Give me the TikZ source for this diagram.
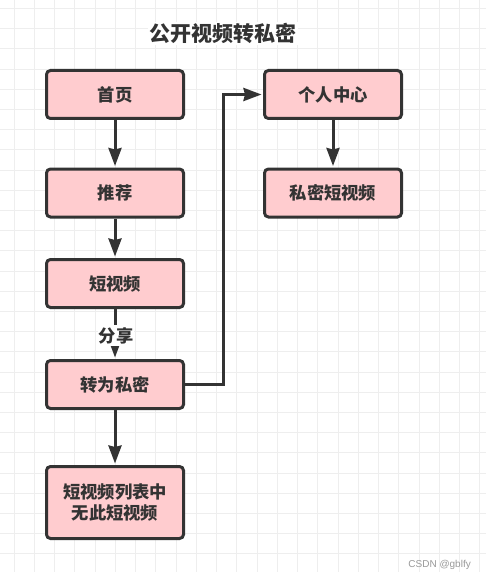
\documentclass[tikz,border=0pt]{standalone}
\usepackage{fontspec}
\setmainfont{Noto Sans CJK SC}
\newfontfamily\wmfont{Liberation Sans}
\usetikzlibrary{arrows.meta}
\definecolor{boxfill}{HTML}{FFCCCF}
\definecolor{boxline}{HTML}{333333}
\definecolor{txt}{HTML}{333333}
\definecolor{gridc}{HTML}{EEEEEE}
\definecolor{wmc}{HTML}{999999}
\begin{document}
\begin{tikzpicture}[x=1pt,y=-1pt,
  box/.style={draw=boxline, fill=boxfill, line width=3pt, rounded corners=4pt,
    minimum width=137pt, minimum height=48pt, inner sep=0pt, align=center,
    font=\fontsize{17.3}{21}\selectfont\bfseries, text=txt},
  conn/.style={draw=boxline, line width=3pt, -{Stealth[length=18pt,width=13pt,inset=1.5pt]}, shorten >=1.5pt},
  gridline/.style={draw=gridc, line width=1pt}]
\useasboundingbox (0,0) rectangle (486,572);
\clip (0,0) rectangle (486,572);
\fill[white] (0,0) rectangle (486,572);
\foreach \i in {0,...,23} \draw[gridline] ({14+20.25*\i},0) -- ({14+20.25*\i},572);
\foreach \j in {0,...,28} \draw[gridline] (0,{8.5+20.2*\j}) -- (486,{8.5+20.2*\j});

\node[font=\fontsize{21}{24}\selectfont\bfseries, text=txt, fill=white, inner sep=1.5pt] (title) at (223,33.5) {公开视频转私密};

\node[box] (a) at (115,94.5) {首页};
\node[box] (b) at (115,193) {推荐};
\node[box] (c) at (115,283.5) {短视频};
\node[box] (d) at (115,384.5) {转为私密};
\node[box, minimum height=72pt] (e) at (115,502.5) {短视频列表中\\无此短视频};
\node[box] (f) at (333,94.5) {个人中心};
\node[box] (g) at (333,193) {私密短视频};

\coordinate (k) at (223.3,94.5);

\draw[conn] (a) -- (b);
\draw[conn] (b) -- (c);
\draw[conn] (c) -- (d);
\draw[conn] (d) -- (e);
\draw[conn] (f) -- (g);
\draw[conn] (d.east) -| (k) -- (f.west);

\node[font=\fontsize{17.3}{21}\selectfont\bfseries, text=txt, fill=white, inner xsep=1pt, inner ysep=2.5pt] (lbl) at (116,335.5) {分享};

\node[font=\wmfont\fontsize{10}{12}\selectfont, text=wmc, anchor=east, inner sep=0pt] (wm) at (471,565) {CSDN @gblfy};
\end{tikzpicture}
\end{document}
